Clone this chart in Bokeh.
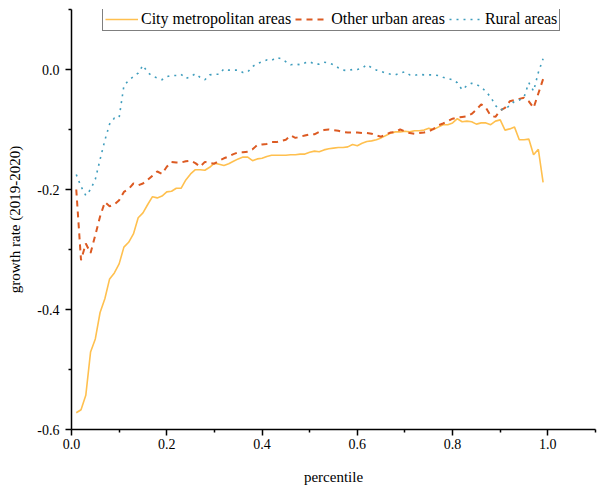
from bokeh.plotting import figure
from bokeh.models import FixedTicker, PrintfTickFormatter, Range1d, Legend, LegendItem
from bokeh.embed import file_html
from bokeh.resources import INLINE

percentile = [round(0.01 * i, 2) for i in range(1, 100)]

city = [-0.572, -0.567, -0.543, -0.471, -0.449, -0.405, -0.382, -0.349, -0.339, -0.324,
        -0.296, -0.288, -0.274, -0.247, -0.239, -0.225, -0.212, -0.214, -0.211, -0.204,
        -0.203, -0.198, -0.198, -0.184, -0.174, -0.167, -0.167, -0.168, -0.163, -0.156,
        -0.158, -0.160, -0.157, -0.153, -0.149, -0.146, -0.146, -0.152, -0.149, -0.148,
        -0.145, -0.143, -0.143, -0.143, -0.143, -0.142, -0.142, -0.141, -0.141, -0.138,
        -0.136, -0.137, -0.134, -0.132, -0.131, -0.130, -0.130, -0.129, -0.125, -0.127,
        -0.123, -0.120, -0.119, -0.117, -0.114, -0.110, -0.106, -0.104, -0.104, -0.103,
        -0.104, -0.102, -0.102, -0.101, -0.098, -0.100, -0.096, -0.092, -0.092, -0.089,
        -0.082, -0.087, -0.086, -0.087, -0.091, -0.089, -0.089, -0.092, -0.086, -0.084,
        -0.101, -0.099, -0.096, -0.117, -0.117, -0.116, -0.142, -0.133, -0.188]

other_urban = [-0.200, -0.318, -0.290, -0.306, -0.276, -0.245, -0.221, -0.228, -0.225, -0.218,
               -0.204, -0.199, -0.190, -0.193, -0.190, -0.184, -0.177, -0.170, -0.174, -0.162,
               -0.154, -0.155, -0.155, -0.153, -0.152, -0.156, -0.162, -0.154, -0.156, -0.157,
               -0.152, -0.148, -0.145, -0.141, -0.138, -0.138, -0.137, -0.133, -0.126, -0.125,
               -0.124, -0.121, -0.121, -0.119, -0.117, -0.110, -0.114, -0.112, -0.110, -0.108,
               -0.108, -0.104, -0.101, -0.100, -0.101, -0.102, -0.104, -0.105, -0.105, -0.105,
               -0.106, -0.106, -0.107, -0.110, -0.112, -0.108, -0.105, -0.104, -0.100, -0.103,
               -0.106, -0.107, -0.106, -0.105, -0.103, -0.099, -0.093, -0.090, -0.086, -0.082,
               -0.080, -0.079, -0.078, -0.074, -0.067, -0.058, -0.064, -0.077, -0.079, -0.068,
               -0.064, -0.053, -0.051, -0.049, -0.047, -0.053, -0.064, -0.040, -0.016]

rural = [-0.175, -0.195, -0.210, -0.200, -0.183, -0.150, -0.118, -0.091, -0.081, -0.080,
         -0.027, -0.018, -0.012, -0.006, 0.007, -0.005, -0.011, -0.014, -0.017, -0.012,
         -0.010, -0.010, -0.008, -0.015, -0.012, -0.007, -0.013, -0.017, -0.009, -0.008,
         -0.008, 0.001, -0.001, -0.001, -0.001, -0.005, -0.004, 0.005, 0.010, 0.013,
         0.016, 0.015, 0.020, 0.018, 0.013, 0.008, 0.009, 0.008, 0.011, 0.013,
         0.009, 0.009, 0.012, 0.011, 0.008, 0.003, -0.001, -0.002, 0.000, 0.000,
         0.002, 0.008, 0.003, -0.001, -0.003, -0.006, -0.008, -0.009, -0.006, -0.004,
         -0.009, -0.010, -0.008, -0.009, -0.009, -0.009, -0.010, -0.013, -0.015, -0.017,
         -0.022, -0.034, -0.027, -0.023, -0.025, -0.029, -0.037, -0.046, -0.060, -0.067,
         -0.066, -0.060, -0.053, -0.051, -0.046, -0.022, -0.036, -0.005, 0.018]

series_names = ["City metropolitan areas", "Other urban areas", "Rural areas"]
x_major = [0.0, 0.2, 0.4, 0.6, 0.8, 1.0]
x_minor = [0.1, 0.3, 0.5, 0.7, 0.9, 1.1]
y_major = [-0.6, -0.4, -0.2, 0.0]
y_minor = [-0.5, -0.3, -0.1, 0.1]

FONT = "Liberation Serif"

p = figure(width=597, height=487, output_backend="svg", toolbar_location=None,
           x_range=Range1d(0, 1.1), y_range=Range1d(-0.6, 0.1),
           min_border_left=71, min_border_right=2, min_border_top=9, min_border_bottom=58)
p.outline_line_color = None
p.grid.grid_line_color = None
p.background_fill_color = "white"
p.border_fill_color = "white"

r1 = p.line(percentile, city, line_color="#FFC04F", line_width=1.6)
r2 = p.line(percentile, other_urban, line_color="#DC5A22", line_width=2, line_dash="6 5")
r3 = p.line(percentile, rural, line_color="#3F9DBD", line_width=1.6, line_dash="2 5")

for ax in (p.xaxis[0], p.yaxis[0]):
    ax.axis_line_color = "black"
    ax.axis_line_width = 1.5
    ax.major_tick_line_color = "black"
    ax.minor_tick_line_color = "black"
    ax.major_tick_line_width = 1.5
    ax.minor_tick_line_width = 1.5
    ax.major_tick_in = 0
    ax.major_tick_out = 6
    ax.minor_tick_in = 0
    ax.minor_tick_out = 3
    ax.major_label_text_font = FONT
    ax.major_label_text_font_size = "14px"
    ax.major_label_text_color = "black"
    ax.axis_label_text_font = FONT
    ax.axis_label_text_font_size = "15px"
    ax.axis_label_text_font_style = "normal"
    ax.axis_label_text_color = "black"
    ax.formatter = PrintfTickFormatter(format="%.1f")

p.xaxis[0].ticker = FixedTicker(ticks=x_major, minor_ticks=x_minor)
p.yaxis[0].ticker = FixedTicker(ticks=y_major, minor_ticks=y_minor)
p.xaxis[0].axis_label = "percentile"
p.yaxis[0].axis_label = "growth rate (2019-2020)"
p.xaxis[0].major_label_standoff = 3
p.xaxis[0].axis_label_standoff = 17
p.yaxis[0].major_label_standoff = 6
p.yaxis[0].axis_label_standoff = 11

legend = Legend(items=[LegendItem(label=series_names[0], renderers=[r1]),
                       LegendItem(label=series_names[1], renderers=[r2]),
                       LegendItem(label=series_names[2], renderers=[r3])],
                orientation="horizontal", location=(31, 398))
legend.label_text_font = FONT
legend.label_text_font_size = "16px"
legend.label_text_color = "black"
legend.glyph_width = 33
legend.glyph_height = 18
legend.label_height = 18
legend.label_standoff = 3
legend.spacing = 4
legend.padding = 2
legend.margin = 0
legend.border_line_color = "black"
legend.border_line_width = 1
legend.background_fill_color = "white"
legend.background_fill_alpha = 1
p.add_layout(legend)

open("out.html", "w").write(file_html(p, INLINE))
